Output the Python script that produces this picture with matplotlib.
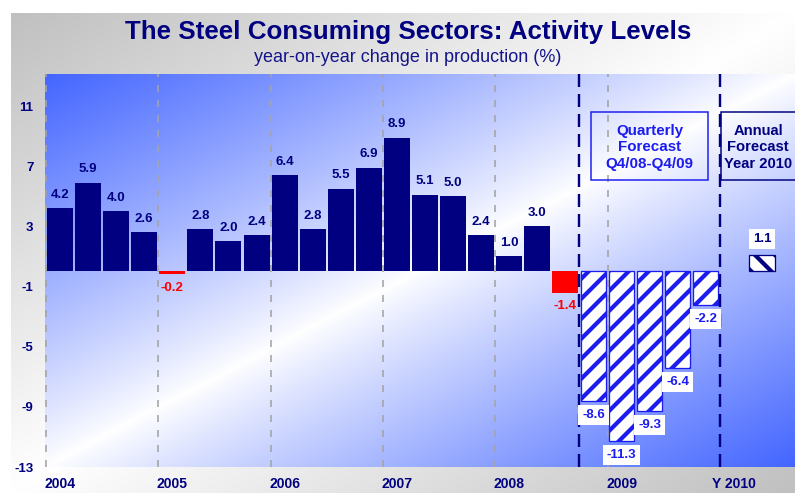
import numpy as np
import matplotlib
matplotlib.use('Agg')
import matplotlib.pyplot as plt
from matplotlib.patches import Rectangle
from matplotlib.colors import to_rgb

DPI = 120
W, H = 795, 493


def P(px):
    return px * 72.0 / DPI


plt.rcParams['font.family'] = ['Liberation Sans', 'DejaVu Sans']
plt.rcParams['hatch.linewidth'] = P(4.2)
plt.rcParams['lines.scale_dashes'] = False
plt.rcParams['axes.unicode_minus'] = False

# ---------------- data ----------------
title = "The Steel Consuming Sectors: Activity Levels"
subtitle = "year-on-year change in production (%)"
# quarterly values Q1/04 .. Q4/09
values = [4.2, 5.9, 4.0, 2.6,
          -0.2, 2.8, 2.0, 2.4,
          6.4, 2.8, 5.5, 6.9,
          8.9, 5.1, 5.0, 2.4,
          1.0, 3.0, -1.4, -8.6,
          -11.3, -9.3, -6.4, -2.2]
n_actual = 19            # first forecast quarter is Q4/08 (index 19)
annual_label = "Y 2010"
annual_value = 1.1
year_labels = ['2004', '2005', '2006', '2007', '2008', '2009', annual_label]
yticks = [11, 7, 3, -1, -5, -9, -13]
quarterly_box_text = "Quarterly\nForecast\nQ4/08-Q4/09"
annual_box_text = "Annual\nForecast\nYear 2010"

NAVY = '#000080'
RED = '#ff0000'
BLUE = '#1c1cf0'

fig = plt.figure(figsize=(W / DPI, H / DPI), dpi=DPI, facecolor='white')


def diag_gradient(c_end, ny=200, nx=300, power=1.0):
    u = np.linspace(0, 1, nx)[None, :]
    v = np.linspace(0, 1, ny)[:, None]
    t = (u + v) / 2.0
    f = np.abs(2 * t - 1) ** power
    c = np.array(to_rgb(c_end))
    return 1 - f[..., None] * (1 - c)


# outer gray panel
bg = fig.add_axes([11 / W, 0, 1 - 11 / W, 1 - 13 / H], zorder=-10)
bg.imshow(diag_gradient('#c0c0c0'), aspect='auto', extent=(0, 1, 0, 1),
          interpolation='bilinear')
bg.set_axis_off()

# main axes
ax = fig.add_axes([45 / W, 26 / H, 750 / W, 393 / H])
xmin = -15 / 28.08
xmax = xmin + 750 / 28.08
ymin, ymax = -13, 13.13
ax.imshow(diag_gradient('#4466ff', power=0.9), aspect='auto',
          extent=(xmin, xmax, ymin, ymax), interpolation='bilinear', zorder=0)
ax.set_xlim(xmin, xmax)
ax.set_ylim(ymin, ymax)
for s in ax.spines.values():
    s.set_visible(False)

year_pos = list(range(0, len(values) + 1, 4))
annual_x = len(values) + 1

# year separators
for yp in year_pos[:-1]:
    ax.axvline(yp - 0.5, color='#a4a4a4', lw=P(1.6), dashes=(P(7), P(8)), zorder=1)

bw = 0.925
vals = np.array(values)
for i, v in enumerate(vals):
    if i < n_actual:
        col = NAVY if v >= 0 else RED
        ax.bar(i, v, width=bw, color=col, zorder=2, linewidth=0)
        off = P(13.5) if v >= 0 else -P(13.5)
        ax.annotate(f"{v:.1f}", xy=(i, v), xytext=(0, off), textcoords='offset points',
                    ha='center', va='center', fontsize=P(13.3), fontweight='bold',
                    color=col, zorder=4)
    else:
        bars = ax.bar(i, v, width=bw * 0.96, facecolor='white', edgecolor=BLUE,
                      hatch='//', linewidth=P(1.3), zorder=2)
        for b in bars:
            if hasattr(b, 'set_hatch_linewidth'):
                b.set_hatch_linewidth(P(4.2))
        ax.annotate(f"{v:.1f}", xy=(i, v), xytext=(0, -P(14)), textcoords='offset points',
                    ha='center', va='center', fontsize=P(13.3), fontweight='bold',
                    color=BLUE, zorder=4,
                    bbox=dict(boxstyle='square,pad=0.3', facecolor='white', edgecolor='none'))

# annual forecast
abars = ax.bar(annual_x, annual_value, width=bw, facecolor='white', edgecolor=NAVY,
               hatch='\\\\', linewidth=P(1.3), zorder=2)
for b in abars:
    if hasattr(b, 'set_hatch_linewidth'):
        b.set_hatch_linewidth(P(4.2))
ax.annotate(f"{annual_value:.1f}", xy=(annual_x, annual_value), xytext=(0, P(15.5)),
            textcoords='offset points', ha='center', va='center', fontsize=P(13.3),
            fontweight='bold', color=NAVY, zorder=4,
            bbox=dict(boxstyle='square,pad=0.3', facecolor='white', edgecolor='none'))

# forecast separators
for xv in (n_actual - 0.5, len(values) - 0.5):
    ax.axvline(xv, color=NAVY, lw=P(2.4), dashes=(P(13), P(7)), zorder=3)

# forecast boxes
ax.add_patch(Rectangle((18.9, 6.05), 4.17, 4.53, facecolor='none', edgecolor=BLUE,
                       lw=P(1.5), zorder=4))
ax.text(21.0, 8.25, quarterly_box_text, ha='center', va='center', linespacing=1.25,
        fontsize=P(15.2), fontweight='bold', color=BLUE, zorder=5)
ax.add_patch(Rectangle((23.55, 6.05), 4.0, 4.53, facecolor='none', edgecolor=NAVY,
                       lw=P(1.5), zorder=4))
ax.text(24.86, 8.25, annual_box_text, ha='center', va='center', linespacing=1.25,
        fontsize=P(14.8), fontweight='bold', color=NAVY, zorder=5)

# axes ticks
ax.set_xticks(year_pos, year_labels)
ax.set_yticks(yticks)
ax.tick_params(axis='x', length=0, pad=P(9.5), labelsize=P(14), labelcolor=NAVY)
ax.tick_params(axis='y', length=0, pad=P(11.5), labelsize=P(13.3), labelcolor=NAVY)
for lab in ax.get_xticklabels() + ax.get_yticklabels():
    lab.set_fontweight('bold')

fig.text(408 / W, 1 - 39 / H, title, ha='center', va='baseline', fontsize=P(26),
         fontweight='bold', color=NAVY)
fig.text(408 / W, 1 - 62.5 / H, subtitle, ha='center', va='baseline', fontsize=P(18),
         color='#14148a')

fig.savefig('out.png', dpi=DPI, facecolor='white')
